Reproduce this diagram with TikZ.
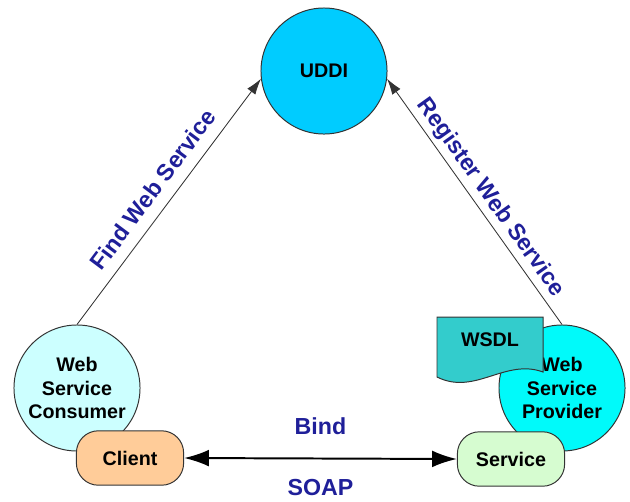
\documentclass[tikz,border=0pt]{standalone}
\usepackage{fontspec}
\setmainfont{Liberation Sans}
\usepackage{tikz}
\usetikzlibrary{arrows.meta}

\definecolor{uddiblue}{RGB}{0,204,255}
\definecolor{consumerfill}{RGB}{204,255,255}
\definecolor{providerfill}{RGB}{0,250,250}
\definecolor{clientfill}{RGB}{255,204,153}
\definecolor{servicefill}{RGB}{214,252,208}
\definecolor{wsdlfill}{RGB}{51,204,204}
\definecolor{labelblue}{RGB}{31,31,153}

\begin{document}
\begin{tikzpicture}[
        x=0.025cm, y=-0.025cm,
        every node/.style={font=\fontsize{14}{16.7}\selectfont\bfseries, align=center},
        role/.style={circle, draw=black!80, line width=0.7pt, minimum size=3.15cm, inner sep=0pt},
        part/.style={rectangle, rounded corners=0.55cm, draw=black!80, line width=0.7pt, minimum width=2.68cm, minimum height=1.36cm},
        lbl/.style={text=labelblue, font=\fontsize{16.5}{19}\selectfont\bfseries, inner sep=0pt}
        ]
        \useasboundingbox (0,0) rectangle (630,501);

        % Registry
        \node[role, fill=uddiblue] (uddi) at (324,71) {UDDI};

        % Consumer side
        \node[role, fill=consumerfill] (consumer) at (77,388) {Web\\Service\\Consumer};
        \node[part, fill=clientfill] (client) at (130,458) {Client};

        % Provider side
        \node[role, fill=providerfill] (provider) at (562,388) {Web\\Service\\Provider};
        \node[part, fill=servicefill] (service) at (511,459) {Service};
        \draw[draw=black!80, fill=wsdlfill, line width=0.7pt]
            (437,317) -- (543,317) -- (543,372) .. controls (505,358) and (475,396) .. (437,377) -- cycle;
        \node (wsdl) at (490,340) {WSDL};

        % Links
        \draw[-{Latex[length=0.4cm,width=0.25cm]}, line width=0.6pt, black!80]
            (consumer.north) -- node[lbl, sloped, above=0.28cm] {Find Web Service} (uddi.187);
        \draw[-{Latex[length=0.4cm,width=0.25cm]}, line width=0.6pt, black!80]
            (provider.north) -- node[lbl, sloped, above=0.1cm, pos=0.48] {Register Web Service} (uddi.-7);
        \draw[{Latex[length=0.62cm,width=0.42cm]}-{Latex[length=0.62cm,width=0.42cm]}, line width=1.4pt]
            (client.east) -- node[lbl, above=0.575cm] {Bind} node[lbl, below=0.5cm] {SOAP} (service.west);
        \end{tikzpicture}
\end{document}
